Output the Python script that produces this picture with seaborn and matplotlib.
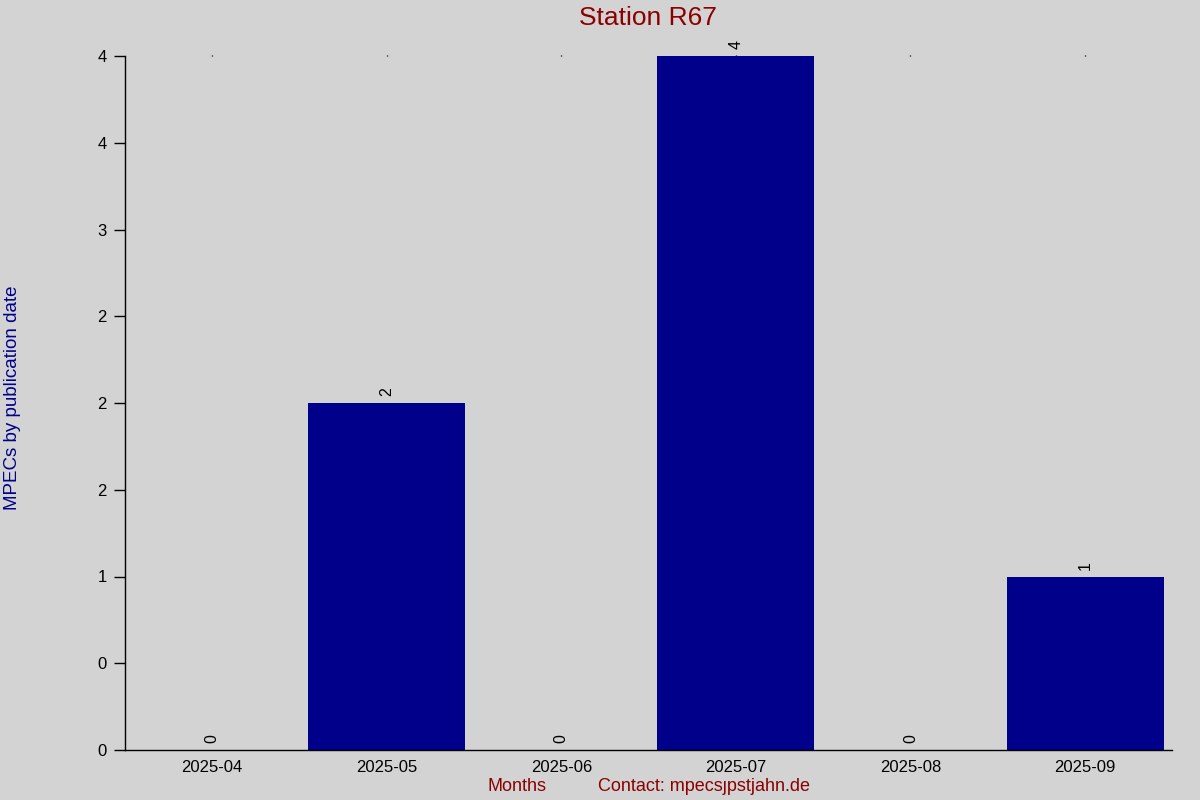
import matplotlib
matplotlib.use("Agg")
import matplotlib.pyplot as plt
import pandas as pd
import numpy as np
import seaborn as sns

# data
months = ["2025-04", "2025-05", "2025-06", "2025-07", "2025-08", "2025-09"]
counts = [0, 2, 0, 4, 0, 1]

df = pd.DataFrame({"month": months, "count": counts})

sns.set_style("white")
plt.rcParams["font.family"] = ["Liberation Sans", "DejaVu Sans"]

bg = "#d3d3d3"
fig = plt.figure(figsize=(12, 8), dpi=100, facecolor=bg)
ax = fig.add_axes([0.104, 0.0625, 0.873, 0.8675])
ax.set_facecolor(bg)

sns.barplot(data=df, x="month", y="count", color="#00008b", width=0.9,
            saturation=1, linewidth=0, ax=ax)

ax.set_xlim(-0.5, 5.5)
ax.set_ylim(0, 4)
ax.set_yticks(np.arange(0, 4.01, 0.5))
ax.set_yticklabels(["%.0f" % v for v in np.arange(0, 4.01, 0.5)])
ax.tick_params(axis="y", left=True, length=8, width=1, color="black",
               labelcolor="black", labelsize=12, pad=5)
ax.tick_params(axis="x", bottom=False, top=True, length=1, width=1,
               color="black", labelcolor="black", labelsize=12, pad=6)

for s in ["top", "right"]:
    ax.spines[s].set_visible(False)
for s in ["left", "bottom"]:
    ax.spines[s].set_color("black")
    ax.spines[s].set_linewidth(1)

# value labels
for i, v in enumerate(counts):
    ax.annotate(str(v), (i, v), xytext=(0, 5), textcoords="offset points",
                ha="center", va="bottom", rotation=90, fontsize=11.5,
                color="black")

ax.set_xlabel("")
ax.set_ylabel("")
fig.text(0.54, 0.977, "Station R67", color="#8b0000", fontsize=19,
         ha="center", va="center")

fig.text(0.0035, 0.503, "MPECs by publication date", rotation=90,
         color="#00008b", fontsize=13.5, ha="left", va="center")
fig.text(0.431, 0.017, "Months", color="#8b0000", fontsize=13,
         ha="center", va="center")
fig.text(0.587, 0.017, "Contact: mpecs\u0237pstjahn.de", color="#8b0000",
         fontsize=13, ha="center", va="center")

fig.savefig("out.png", dpi=100, facecolor=bg)
